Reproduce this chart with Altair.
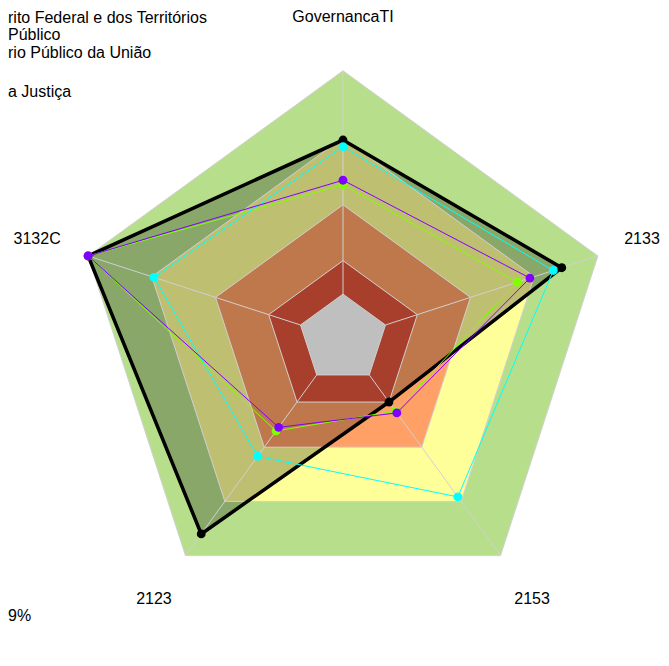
import altair as alt
import pandas as pd

# ---- data -------------------------------------------------------------
axes = ["GovernancaTI", "2133", "2153", "2123", "3132C"]

series_names = ["Série 1", "Série 2", "Série 3", "Série 4"]
series_colors = ["#000000", "#80FF00", "#00FFFF", "#8000FF"]
series_widths = [3.5, 1, 1, 1]
black_vals = [0.69, 0.83, 0.15, 0.88, 1.00]
green_vals = [0.49, 0.62, 0.20, 0.31, 1.00]
cyan_vals = [0.66, 0.79, 0.675, 0.45, 0.69]
purple_vals = [0.51, 0.68, 0.21, 0.29, 1.00]
series_values = [black_vals, green_vals, cyan_vals, purple_vals]

band_limits = [1.0, 0.70, 0.40, 0.15, 0.0]
band_colors = ["#B7DF8B", "#FFFF99", "#FFA066", "#DF553B", "#FFFFFF"]

legend_lines = ["rito Federal e dos Territórios", "Público",
                "rio Público da União", "", "a Justiça"]
legend_y = [9.5, 26.5, 45.0, 64.9, 84.2]
footnote = "9%"

# ---- geometry helpers (scale: value -> radius) ------------------------
R = 268
R_EXPR = f"{R} * (1 + 5 * datum.v) / 6"
X_EXPR = "datum.r * sin(datum.k * 2 * PI / 5)"
Y_EXPR = "datum.r * cos(datum.k * 2 * PI / 5)"

X_MIN, X_MAX = -335, 318
xscale = alt.Scale(domain=[X_MIN, X_MAX], nice=False, zero=False)
yscale = alt.Scale(domain=[-319.2, 330.8], nice=False, zero=False)
X = alt.X("x:Q", scale=xscale, axis=None)
Y = alt.Y("y:Q", scale=yscale, axis=None)


def polar(chart):
    return (chart.transform_calculate(r=R_EXPR)
                 .transform_calculate(x=X_EXPR)
                 .transform_calculate(y=Y_EXPR))


def ring_df(v):
    return pd.DataFrame({"k": list(range(len(axes))), "v": [v] * len(axes)})


layers = []

# background bands
for lim, col in zip(band_limits, band_colors):
    layers.append(
        polar(alt.Chart(ring_df(lim)))
        .mark_line(interpolate="linear-closed", fill=col, fillOpacity=1,
                   strokeOpacity=0)
        .encode(x=X, y=Y, order=alt.Order("k:Q"))
    )

# filled highlight polygon (first series)
black_df = pd.DataFrame({"k": list(range(len(axes))), "v": black_vals})
layers.append(
    polar(alt.Chart(black_df))
    .mark_line(interpolate="linear-closed", fill="black", fillOpacity=0.25,
               strokeOpacity=0)
    .encode(x=X, y=Y, order=alt.Order("k:Q"))
)

# grid: band outlines and spokes
grid_df = pd.concat([ring_df(l).assign(g=i) for i, l in enumerate(band_limits)])
layers.append(
    polar(alt.Chart(grid_df))
    .mark_line(interpolate="linear-closed", stroke="#D0D0D0", strokeWidth=1)
    .encode(x=X, y=Y, order=alt.Order("k:Q"), detail="g:N")
)
spoke_df = pd.DataFrame({"k": list(range(len(axes))), "v0": [0.0] * 5, "v1": [1.0] * 5})
layers.append(
    alt.Chart(spoke_df)
    .transform_calculate(r0=f"{R} * (1 + 5 * datum.v0) / 6")
    .transform_calculate(r1=f"{R} * (1 + 5 * datum.v1) / 6")
    .transform_calculate(x="datum.r0 * sin(datum.k * 2 * PI / 5)")
    .transform_calculate(y="datum.r0 * cos(datum.k * 2 * PI / 5)")
    .transform_calculate(x2="datum.r1 * sin(datum.k * 2 * PI / 5)")
    .transform_calculate(y2="datum.r1 * cos(datum.k * 2 * PI / 5)")
    .mark_rule(stroke="#D0D0D0", strokeWidth=1)
    .encode(x=X, y=Y, x2="x2:Q", y2="y2:Q")
)

# series lines and points
for name, col, w, vals in zip(series_names, series_colors, series_widths, series_values):
    df = pd.DataFrame({"k": list(range(len(axes))), "v": vals, "serie": name})
    base = polar(alt.Chart(df))
    layers.append(
        base.mark_line(interpolate="linear-closed", stroke=col, strokeWidth=w)
        .encode(x=X, y=Y, order=alt.Order("k:Q"))
    )
    layers.append(
        base.mark_circle(size=78, color=col, opacity=1)
        .encode(x=X, y=Y)
    )

# axis labels (kept inside the drawing area)
lab_df = pd.DataFrame({"k": list(range(len(axes))), "axis": axes})
layers.append(
    alt.Chart(lab_df)
    .transform_calculate(r=f"1.2 * {R}")
    .transform_calculate(x0=X_EXPR)
    .transform_calculate(x=f"min(datum.x0, {X_MAX} - 19)")
    .transform_calculate(y=Y_EXPR)
    .mark_text(font="Liberation Sans", fontSize=16, color="black",
               align="center", baseline="middle")
    .encode(x=X, y=Y, text="axis:N")
)

# legend (cut off at the left edge in the original)
for t, yy in zip(legend_lines, legend_y):
    if not t:
        continue
    layers.append(
        alt.Chart(pd.DataFrame({"t": [t]}))
        .mark_text(font="Liberation Sans", fontSize=16, color="black",
                   align="left", baseline="middle")
        .encode(x=alt.value(0), y=alt.value(yy), text="t:N")
    )

layers.append(
    alt.Chart(pd.DataFrame({"t": [footnote]}))
    .mark_text(font="Liberation Sans", fontSize=16, color="black",
               align="left", baseline="middle")
    .encode(x=alt.value(0), y=alt.value(608), text="t:N")
)

chart = (
    alt.layer(*layers)
    .properties(width=653, height=650, padding=0,
                autosize=alt.AutoSizeParams(type="none"))
    .configure_view(strokeWidth=0)
)

chart.save("out.html", embed_options={"renderer": "svg", "actions": False})
